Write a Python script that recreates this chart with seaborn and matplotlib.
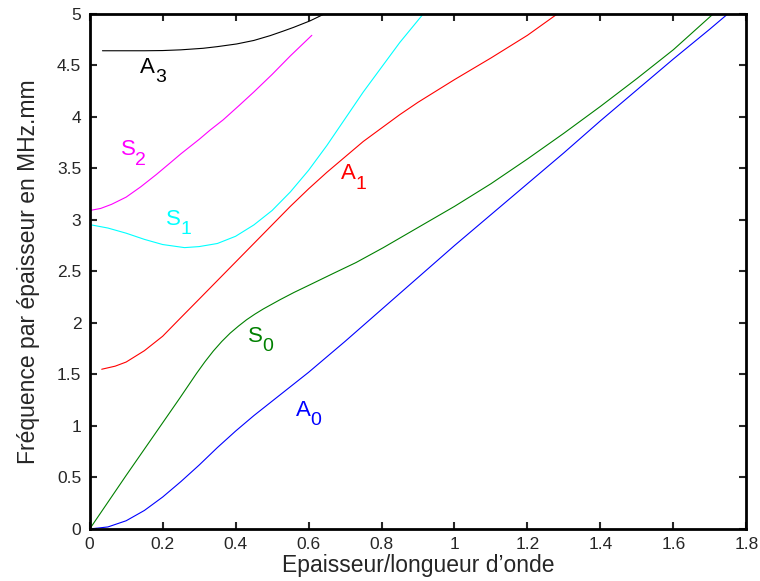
import numpy as np
import pandas as pd
import matplotlib
matplotlib.use("Agg")
import matplotlib.pyplot as plt
import seaborn as sns

# Courbes de dispersion (lecture graphique)
a0_x = [0, 0.05, 0.1, 0.15, 0.2, 0.25, 0.3, 0.35, 0.4, 0.45, 0.5, 0.55, 0.6, 0.7, 0.8, 0.9, 1.0,
        1.1, 1.2, 1.3, 1.4, 1.5, 1.6, 1.7, 1.75]
a0_y = [0, 0.02, 0.08, 0.18, 0.31, 0.46, 0.62, 0.79, 0.95, 1.10, 1.24, 1.38, 1.52, 1.82, 2.13,
        2.44, 2.75, 3.05, 3.35, 3.65, 3.96, 4.26, 4.56, 4.85, 5.0]

s0_x = [0, 0.1, 0.2, 0.247, 0.293, 0.316, 0.339, 0.362, 0.385, 0.408, 0.43, 0.453, 0.476, 0.522,
        0.56, 0.604, 0.668, 0.73, 0.805, 0.9, 1.0, 1.1, 1.2, 1.3, 1.4, 1.5, 1.6, 1.71]
s0_y = [0, 0.52, 1.03, 1.27, 1.51, 1.623, 1.727, 1.819, 1.90, 1.969, 2.03, 2.085, 2.135, 2.225,
        2.295, 2.37, 2.48, 2.585, 2.73, 2.925, 3.13, 3.35, 3.59, 3.84, 4.10, 4.37, 4.65, 5.0]

a1_x = [0.033, 0.07, 0.1, 0.15, 0.2, 0.247, 0.3, 0.4, 0.5, 0.55, 0.6, 0.65, 0.7, 0.75, 0.8,
        0.85, 0.9, 1.0, 1.1, 1.2, 1.283]
a1_y = [1.55, 1.58, 1.62, 1.73, 1.87, 2.04, 2.23, 2.59, 2.95, 3.13, 3.30, 3.46, 3.61, 3.76,
        3.89, 4.02, 4.14, 4.36, 4.57, 4.79, 5.0]

s1_x = [0.005, 0.05, 0.1, 0.15, 0.2, 0.26, 0.3, 0.35, 0.4, 0.45, 0.5, 0.55, 0.6, 0.65, 0.7,
        0.75, 0.8, 0.85, 0.915]
s1_y = [2.95, 2.92, 2.87, 2.81, 2.76, 2.73, 2.74, 2.77, 2.84, 2.95, 3.09, 3.27, 3.48, 3.72,
        3.98, 4.24, 4.48, 4.72, 5.0]

s2_x = [0.0, 0.03, 0.06, 0.1, 0.14, 0.183, 0.22, 0.25, 0.3, 0.33, 0.366, 0.41, 0.45, 0.5,
        0.55, 0.609]
s2_y = [3.09, 3.11, 3.15, 3.22, 3.32, 3.44, 3.55, 3.64, 3.78, 3.87, 3.97, 4.11, 4.24, 4.41,
        4.59, 4.79]

a3_x = [0.035, 0.1, 0.15, 0.2, 0.25, 0.311, 0.35, 0.403, 0.45, 0.495, 0.53, 0.559, 0.604,
        0.645]
a3_y = [4.64, 4.64, 4.64, 4.642, 4.649, 4.664, 4.68, 4.706, 4.74, 4.787, 4.83, 4.867, 4.93, 5.0]

# nom, x, y, couleur, lettre, indice, position de la lettre
modes = [
    ("A0", a0_x, a0_y, "blue", "A", "0", 0.586, 1.153),
    ("S0", s0_x, s0_y, "green", "S", "0", 0.455, 1.872),
    ("A1", a1_x, a1_y, "red", "A", "1", 0.710, 3.447),
    ("S1", s1_x, s1_y, "cyan", "S", "1", 0.229, 3.004),
    ("S2", s2_x, s2_y, "magenta", "S", "2", 0.105, 3.680),
    ("A3", a3_x, a3_y, "black", "A", "3", 0.159, 4.477),
]

sns.set_style("white")
plt.rcParams["font.family"] = ["Liberation Sans", "DejaVu Sans"]

fig = plt.figure(figsize=(7.6, 5.81), dpi=100)
ax = fig.add_axes([0.118, 0.0895, 0.864, 0.887])

for nom, xs, ys, couleur, lettre, indice, lx, ly in modes:
    df = pd.DataFrame({"x": xs, "y": ys})
    sns.lineplot(data=df, x="x", y="y", sort=False, color=couleur, linewidth=0.8, ax=ax)
    ax.text(lx, ly, lettre, color=couleur, fontsize=16, ha="center", va="center")
    ax.annotate(indice, (lx, ly), xytext=(9, -7.5), textcoords="offset points",
                color=couleur, fontsize=14, ha="center", va="center")

ax.set_xlim(0, 1.8)
ax.set_ylim(0, 5)
ax.set_xticks(np.arange(0, 1.81, 0.2))
ax.set_yticks(np.arange(0, 5.01, 0.5))
ax.set_xticklabels(["0", "0.2", "0.4", "0.6", "0.8", "1", "1.2", "1.4", "1.6", "1.8"])
ax.set_yticklabels(["0", "0.5", "1", "1.5", "2", "2.5", "3", "3.5", "4", "4.5", "5"])
ax.tick_params(direction="in", length=5, width=1.5, labelsize=12.5, top=True, right=True,
               bottom=True, left=True, pad=6)
for sp in ax.spines.values():
    sp.set_linewidth(2)
    sp.set_color("black")
ax.set_xlabel("Epaisseur/longueur d\u2019onde", fontsize=16.5, labelpad=1)
ax.set_ylabel("Fréquence par épaisseur en MHz.mm", fontsize=16.5, labelpad=12)

fig.savefig("out.png", dpi=100)
